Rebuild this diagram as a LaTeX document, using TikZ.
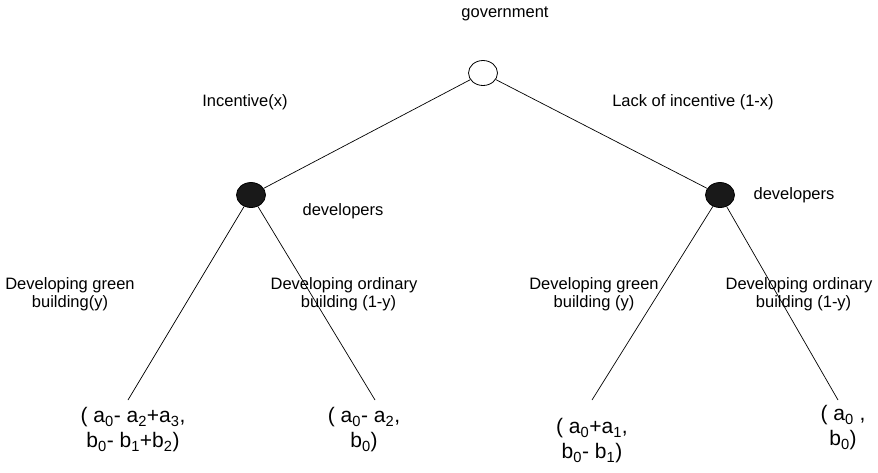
\documentclass[tikz,border=0pt]{standalone}
\usepackage{fontspec}
\setmainfont{Liberation Sans}
\usetikzlibrary{shapes.geometric}

\begin{document}
\begin{tikzpicture}[x=1pt,y=-1pt,
  player/.style={ellipse,draw,line width=0.8pt,minimum width=29pt,minimum height=25pt,inner sep=0pt},
  lbl/.style={align=center,font=\fontsize{16.5}{18}\selectfont},
  pay/.style={align=center,font=\fontsize{21}{25}\selectfont}]
\useasboundingbox (0,0) rectangle (878,472);

% players
\node[player](1) at (483,73){};
\node[player,fill=black!90](2) at (251,195){};
\node[player,fill=black!90](3) at (720,195){};
\node[lbl](g) at (505,14){government};
\node[lbl](d1) at (343,211){developers};
\node[lbl](d2) at (794,195){developers};

% payoffs
\coordinate(4) at (128,400);
\coordinate(5) at (375,400);
\coordinate(6) at (592,400);
\coordinate(7) at (838,400);
\node[pay](p4) at (133,430){( a\textsubscript{0}- a\textsubscript{2}+a\textsubscript{3},\\b\textsubscript{0}- b\textsubscript{1}+b\textsubscript{2})};
\node[pay](p5) at (364,430){( a\textsubscript{0}- a\textsubscript{2},\\b\textsubscript{0})};
\node[pay](p6) at (592,441){( a\textsubscript{0}+a\textsubscript{1},\\b\textsubscript{0}- b\textsubscript{1})};
\node[pay](p7) at (843,428){( a\textsubscript{0} ,\\b\textsubscript{0})};

% branches
\draw [line width=0.7pt](1)--(2);
\draw [line width=0.7pt](1)--(3);
\draw [line width=0.7pt](2)--(4);
\draw [line width=0.7pt](2)--(5);
\draw [line width=0.7pt](3)--(6);
\draw [line width=0.7pt](3)--(7);

% branch labels
\node[lbl](x1) at (245,102){Incentive(x)};
\node[lbl](x2) at (693,102){Lack of incentive (1-x)};
\node[lbl](y1) at (70,294){Developing green\\building(y)};
\node[lbl](y2) at (344,294){Developing ordinary\\\ \ building (1-y)};
\node[lbl](y3) at (594,294){Developing green\\building (y)};
\node[lbl](y4) at (799,294){Developing ordinary\\\ \ building (1-y)};

\end{tikzpicture}
\end{document}
